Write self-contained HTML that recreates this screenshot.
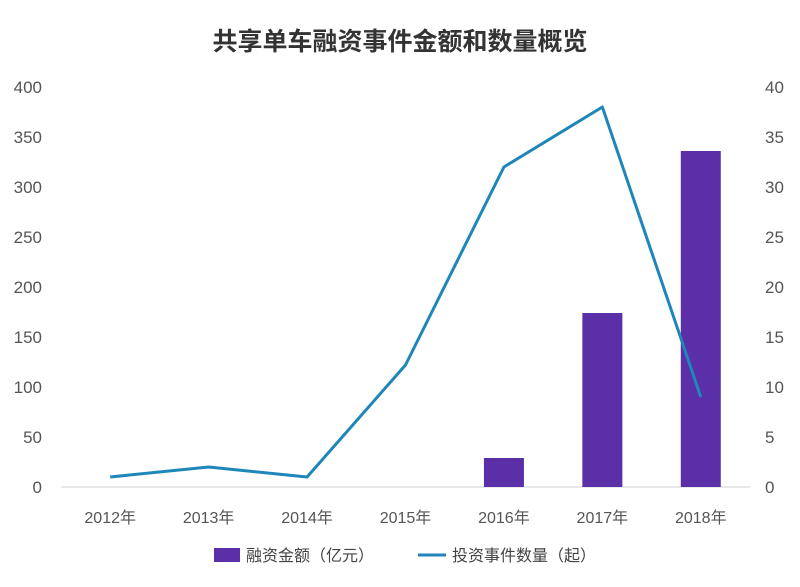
<!DOCTYPE html>
<html><head><meta charset="utf-8"><style>
body{margin:0;background:#fff;}
svg{display:block;font-family:"Liberation Sans","Noto Sans CJK SC",sans-serif;}
</style></head><body>
<svg id="chart" width="800" height="587">
<text x="400" y="50" text-anchor="middle" font-size="25" font-weight="bold" fill="#333">共享单车融资事件金额和数量概览</text>
<g id="axes"></g><g id="bars"></g><g id="line"></g>
<g>
<rect x="214" y="548" width="26" height="14" fill="#5a2fa8"/>
<text x="246" y="561" font-size="16" fill="#444">融资金额（亿元）</text>
<line x1="418" y1="555" x2="446" y2="555" stroke="#1f86b9" stroke-width="3"/>
<text x="452" y="561" font-size="16" fill="#444">投资事件数量（起）</text>
</g>
</svg>
<script>
const categories=["2012年","2013年","2014年","2015年","2016年","2017年","2018年"];
const amounts=[0,0,0,0,29,174,336];
const counts=[1,2,1,12.2,32,38,9];
const leftTicks=[0,50,100,150,200,250,300,350,400];
const rightTicks=[0,5,10,15,20,25,30,35,40];
const NS="http://www.w3.org/2000/svg";
const x0=61,x1=750,yTop=87,yBot=487;
const step=(x1-x0)/categories.length;
const xc=i=>x0+step*(i+0.5);
const yL=v=>yBot-(v/400)*(yBot-yTop);
const yR=v=>yBot-(v/40)*(yBot-yTop);
function mk(t,a,p){const e=document.createElementNS(NS,t);for(const k in a)e.setAttribute(k,a[k]);p.appendChild(e);return e;}
const ax=document.getElementById('axes');
const base=mk('line',{x1:x0,x2:x1,y1:yBot,y2:yBot,stroke:'#d0d0d0','stroke-width':1},ax);


leftTicks.forEach(v=>{const t=mk('text',{x:42,y:yL(v)+6,'text-anchor':'end','font-size':17,fill:'#555'},ax);t.textContent=v;

});
rightTicks.forEach(v=>{const t=mk('text',{x:765,y:yR(v)+6,'text-anchor':'start','font-size':17,fill:'#555'},ax);t.textContent=v;

});
categories.forEach((c,i)=>{const t=mk('text',{x:xc(i),y:523,'text-anchor':'middle','font-size':16,fill:'#555'},ax);t.textContent=c;

});
const bg=document.getElementById('bars');
amounts.forEach((v,i)=>{if(v<=0)return;const r=mk('rect',{x:xc(i)-20,y:yL(v),width:40,height:yBot-yL(v),fill:'#5a2fa8'},bg);

});
const lg=document.getElementById('line');
const pl=mk('polyline',{points:counts.map((v,i)=>xc(i)+','+yR(v)).join(' '),fill:'none',stroke:'#1f86b9','stroke-width':3,'stroke-linejoin':'round'},lg);


</script>
</body></html>
